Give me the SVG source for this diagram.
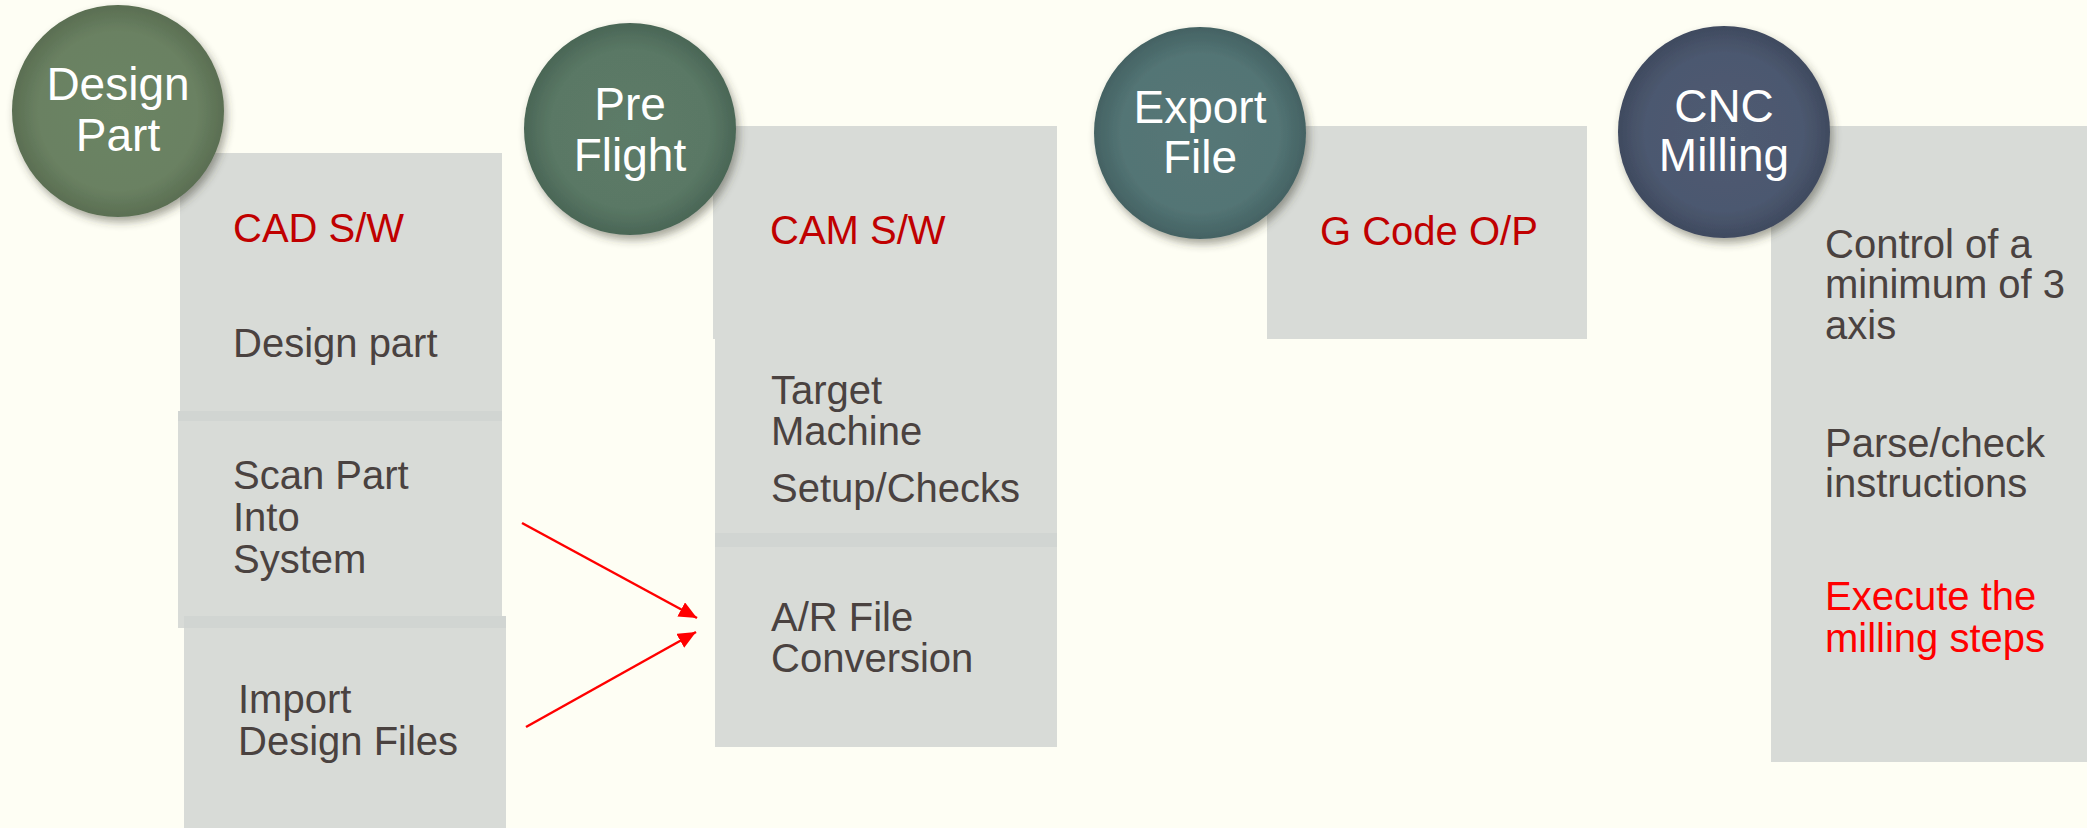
<svg xmlns="http://www.w3.org/2000/svg" width="2087" height="828" viewBox="0 0 2087 828">
  <defs>
    <style>
      .box { fill: #D8DBD7; }
      .band { fill: #D1D5D2; }
      .stage { font-family: "Liberation Sans", Arial, sans-serif; font-size: 46px; fill: #FFFFFF; text-anchor: middle; }
      .item { font-family: "Liberation Sans", Arial, sans-serif; font-size: 40px; fill: #4A4240; }
      .head { font-family: "Liberation Sans", Arial, sans-serif; font-size: 40px; fill: #C00000; }
      .hot { font-family: "Liberation Sans", Arial, sans-serif; font-size: 40px; fill: #FF0000; }
      .flow { stroke: #FF0000; stroke-width: 2.5; fill: none; marker-end: url(#arrow); }
    </style>
    <marker id="arrow" markerUnits="userSpaceOnUse" markerWidth="20" markerHeight="16" refX="18" refY="8" orient="auto">
      <path d="M0,0 L18,8 L0,16 Z" fill="#FF0000"/>
    </marker>
    <filter id="shadow" x="-20%" y="-20%" width="150%" height="150%">
      <feDropShadow dx="3" dy="5" stdDeviation="4" flood-color="#3A3A2A" flood-opacity="0.45"/>
    </filter>
    <radialGradient id="gDesign" cx="50%" cy="50%" r="50%">
      <stop offset="0%" stop-color="#6C8463"/>
      <stop offset="75%" stop-color="#6A8162"/>
      <stop offset="100%" stop-color="#5A6E52"/>
    </radialGradient>
    <radialGradient id="gPre" cx="50%" cy="50%" r="50%">
      <stop offset="0%" stop-color="#5C7B67"/>
      <stop offset="75%" stop-color="#5A7865"/>
      <stop offset="100%" stop-color="#4A6656"/>
    </radialGradient>
    <radialGradient id="gExport" cx="50%" cy="50%" r="50%">
      <stop offset="0%" stop-color="#557777"/>
      <stop offset="75%" stop-color="#537474"/>
      <stop offset="100%" stop-color="#446263"/>
    </radialGradient>
    <radialGradient id="gCnc" cx="50%" cy="50%" r="50%">
      <stop offset="0%" stop-color="#4F5B72"/>
      <stop offset="75%" stop-color="#4C586F"/>
      <stop offset="100%" stop-color="#3F4A5F"/>
    </radialGradient>
  </defs>

  <rect width="2087" height="828" fill="#FEFEF4"/>

  <!-- Stage 1: Design Part -->
  <g id="design-boxes">
    <rect class="box" x="180" y="153" width="322" height="260"/>
    <text class="head" x="233" y="242">CAD S/W</text>
    <text class="item" x="233" y="357">Design part</text>

    <rect class="box" x="178" y="411" width="324" height="217"/>
    <rect class="band" x="178" y="411" width="324" height="10"/>
    <text class="item" x="233" y="489">Scan Part</text>
    <text class="item" x="233" y="531">Into</text>
    <text class="item" x="233" y="573">System</text>

    <rect class="box" x="184" y="616" width="322" height="212"/>
    <rect class="band" x="184" y="616" width="322" height="12"/>
    <text class="item" x="238" y="713">Import</text>
    <text class="item" x="238" y="755">Design Files</text>
  </g>
  <g id="design-part">
    <circle cx="118" cy="111" r="106" fill="url(#gDesign)" filter="url(#shadow)"/>
    <text class="stage" x="118" y="100">Design</text>
    <text class="stage" x="118" y="151">Part</text>
  </g>

  <!-- Stage 2: Pre Flight -->
  <g id="preflight-boxes">
    <rect class="box" x="713" y="126" width="344" height="213"/>
    <text class="head" x="770" y="244">CAM S/W</text>

    <rect class="box" x="715" y="339" width="342" height="196" fill="#D6D9D6"/>
    <text class="item" x="771" y="404">Target</text>
    <text class="item" x="771" y="445">Machine</text>
    <text class="item" x="771" y="502">Setup/Checks</text>

    <rect class="box" x="715" y="533" width="342" height="214" fill="#D4D8D7"/>
    <rect class="band" x="715" y="533" width="342" height="14"/>
    <text class="item" x="771" y="631">A/R File</text>
    <text class="item" x="771" y="672">Conversion</text>
  </g>
  <g id="pre-flight">
    <circle cx="630" cy="129" r="106" fill="url(#gPre)" filter="url(#shadow)"/>
    <text class="stage" x="630" y="120">Pre</text>
    <text class="stage" x="630" y="171">Flight</text>
  </g>

  <!-- Stage 3: Export File -->
  <g id="export-boxes">
    <rect class="box" x="1267" y="126" width="320" height="213" fill="#D5D8D8"/>
    <text class="head" x="1320" y="245">G Code O/P</text>
  </g>
  <g id="export-file">
    <circle cx="1200" cy="133" r="106" fill="url(#gExport)" filter="url(#shadow)"/>
    <text class="stage" x="1200" y="123">Export</text>
    <text class="stage" x="1200" y="173">File</text>
  </g>

  <!-- Stage 4: CNC Milling -->
  <g id="cnc-boxes">
    <rect class="box" x="1771" y="126" width="316" height="636" fill="#D4D6D8"/>
    <text class="item" x="1825" y="258">Control of a</text>
    <text class="item" x="1825" y="298">minimum of 3</text>
    <text class="item" x="1825" y="339">axis</text>
    <text class="item" x="1825" y="457">Parse/check</text>
    <text class="item" x="1825" y="497">instructions</text>
    <text class="hot" x="1825" y="610">Execute the</text>
    <text class="hot" x="1825" y="652">milling steps</text>
  </g>
  <g id="cnc-milling">
    <circle cx="1724" cy="132" r="106" fill="url(#gCnc)" filter="url(#shadow)"/>
    <text class="stage" x="1724" y="122">CNC</text>
    <text class="stage" x="1724" y="171">Milling</text>
  </g>

  <!-- Inputs feeding the A/R file conversion -->
  <g id="connectors">
    <line class="flow" x1="522" y1="523" x2="697" y2="618"/>
    <line class="flow" x1="526" y1="727" x2="696" y2="632"/>
  </g>
</svg>
